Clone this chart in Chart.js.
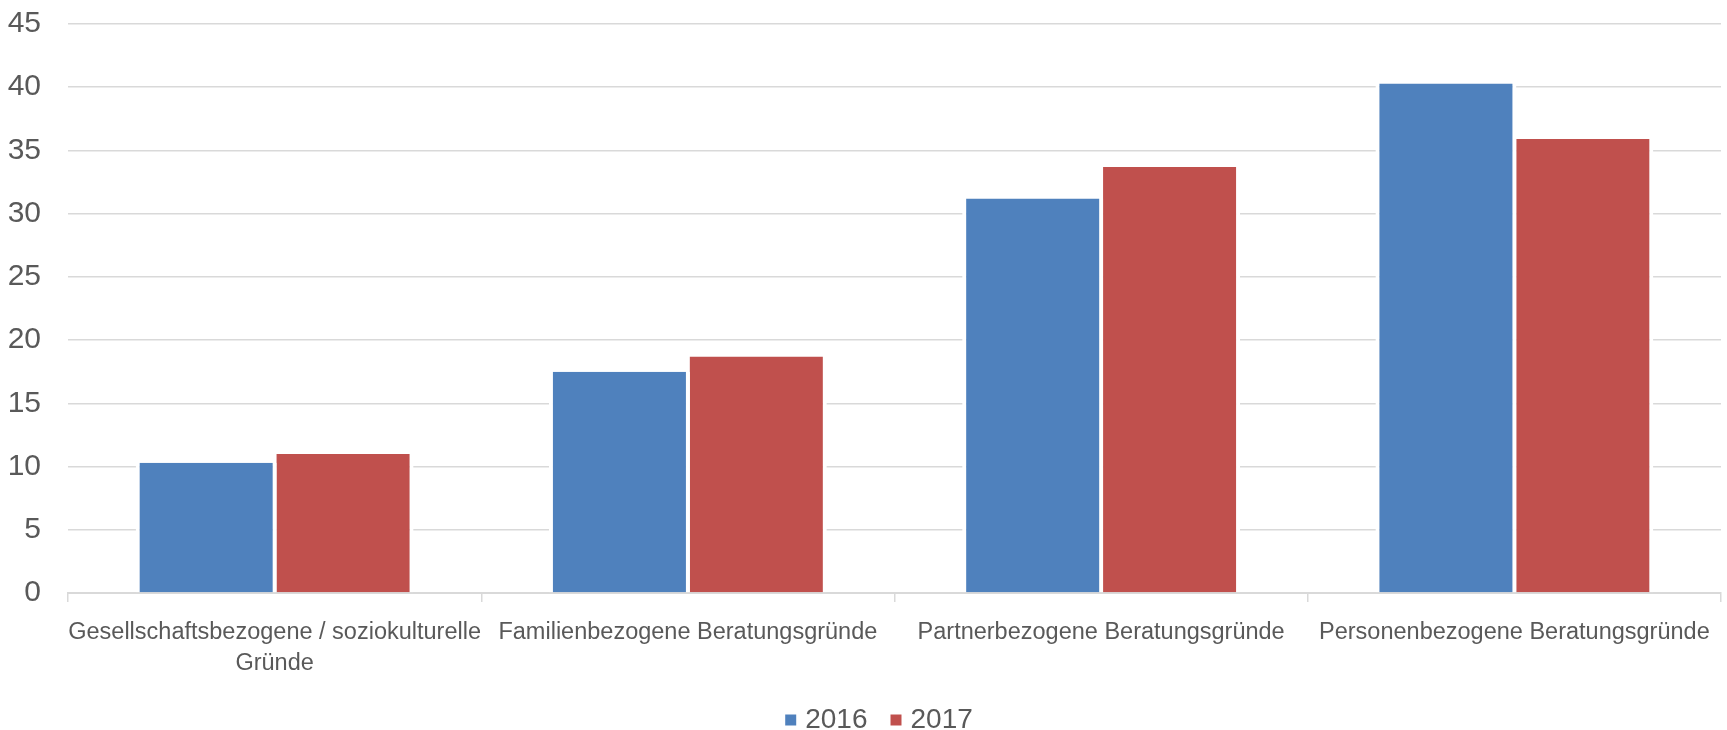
<!DOCTYPE html>
<html>
<head>
<meta charset="utf-8">
<script src="https://cdn.jsdelivr.net/npm/chart.js@4.4.1/dist/chart.umd.min.js"></script>
<style>
    html, body { margin: 0; padding: 0; background: #fff; overflow: hidden; }
    #wrap { width: 1727px; height: 744px; }
</style>
</head>
<body>
<div id="wrap"><canvas id="beratungChart" width="1727" height="744"></canvas></div>
<script>
const categories = [
    ['Gesellschaftsbezogene / soziokulturelle', 'Gründe'],
    'Familienbezogene Beratungsgründe',
    'Partnerbezogene Beratungsgründe',
    'Personenbezogene Beratungsgründe'
];
const seriesNames = ['2016', '2017'];
const values2016 = [10.3, 17.5, 31.2, 40.3];
const values2017 = [11.0, 18.7, 33.7, 35.9];
const yMin = 0;
const yMax = 45;
const yStep = 5;

const textColor = '#595959';
const gridColor = '#d9d9d9';

Chart.defaults.font.family = "'Liberation Sans', Arial, sans-serif";
Chart.defaults.color = textColor;

// the legend sits a little right of the canvas centre
const legendShift = {
    id: 'legendShift',
    afterLayout: function (chart) {
        chart.legend.left += 19;
        chart.legend.right += 19;
    }
};

const ctx = document.getElementById('beratungChart');
new Chart(ctx, {
    type: 'bar',
    data: {
        labels: categories,
        datasets: [{
            label: seriesNames[0],
            data: values2016,
            backgroundColor: '#4F81BD',
            borderColor: '#ffffff',
            borderWidth: { left: 4, right: 4, top: 0, bottom: 0 },
            barPercentage: 1.03,
            categoryPercentage: 0.6625
        }, {
            label: seriesNames[1],
            data: values2017,
            backgroundColor: '#C0504D',
            borderColor: '#ffffff',
            borderWidth: { left: 4, right: 4, top: 0, bottom: 0 },
            barPercentage: 1.03,
            categoryPercentage: 0.6625
        }]
    },
    plugins: [legendShift],
    options: {
        responsive: false,
        animation: false,
        layout: {
            padding: { top: 24, right: 6, bottom: 0, left: 4 }
        },
        plugins: {
            legend: {
                position: 'bottom',
                labels: {
                    usePointStyle: true,
                    pointStyle: 'rect',
                    boxWidth: 1,
                    boxHeight: 13,
                    padding: 28,
                    color: textColor,
                    font: { size: 28 }
                }
            },
            tooltip: { enabled: false }
        },
        scales: {
            x: {
                grid: {
                    display: true,
                    drawOnChartArea: false,
                    tickLength: 9,
                    color: gridColor,
                    lineWidth: 1.5
                },
                border: { color: gridColor, width: 2 },
                ticks: {
                    color: textColor,
                    font: { size: 23.5, lineHeight: 1.32 },
                    padding: 15,
                    maxRotation: 0,
                    autoSkip: false
                },
                afterFit: function (scale) {
                    scale.height = 85;
                }
            },
            y: {
                min: yMin,
                max: yMax,
                ticks: {
                    stepSize: yStep,
                    color: textColor,
                    font: { size: 30 },
                    padding: 4
                },
                grid: {
                    color: gridColor,
                    lineWidth: 1.5,
                    drawTicks: true,
                    tickLength: 23,
                    tickColor: 'rgba(0,0,0,0)'
                },
                border: { display: false },
                afterFit: function (scale) {
                    scale.width = 64;
                }
            }
        }
    }
});
</script>
</body>
</html>
